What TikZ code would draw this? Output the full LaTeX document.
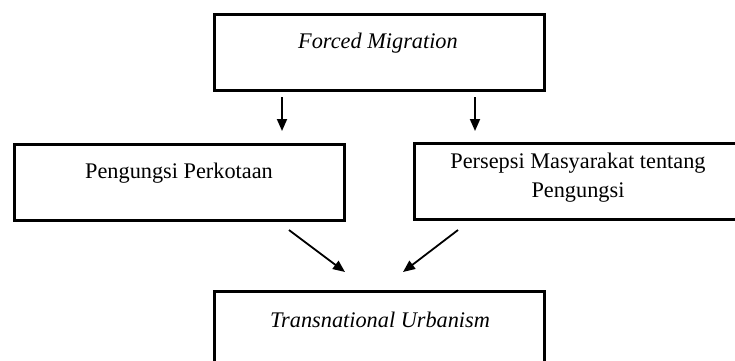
\documentclass[tikz,border=0pt]{standalone}
\usepackage{fontspec}
\setmainfont{Liberation Serif}
\usetikzlibrary{arrows.meta,calc}
\begin{document}
\begin{tikzpicture}[x=1pt,y=-1pt,
  boxnode/.style={draw=black,line width=3pt,minimum width=330pt,minimum height=76pt,inner sep=0pt,anchor=north west},
  txt/.style={font=\fontsize{22.3}{29}\selectfont,align=center,inner sep=0pt},
  arr/.style={line width=1.8pt,-{Triangle[length=12pt,width=10pt]}}]
\useasboundingbox (0,0) rectangle (735,360);
\clip (0,0) rectangle (735,360);
\fill[white] (0,0) rectangle (735,360);
% boxes
\node[boxnode] (top) at (213,13) {};
\node[boxnode] (left) at (13,143) {};
\node[boxnode] (right) at (413,142) {};
\node[boxnode,minimum height=80pt] (bottom) at (213,290) {};
% texts
\node[txt] (ttop) at (378,43) {\itshape Forced Migration};
\node[txt] (tleft) at (179,173) {Pengungsi Perkotaan};
\node[txt] (tright) at (578,177.5) {Persepsi Masyarakat tentang\\Pengungsi};
\node[txt] (tbottom) at (380,320) {\itshape Transnational Urbanism};
% connectors
\coordinate (a1) at (282,97);
\coordinate (b1) at (282,131);
\coordinate (a2) at (475,97);
\coordinate (b2) at (475,131);
\coordinate (c1) at (289,230);
\coordinate (d1) at (345,272);
\coordinate (c2) at (458,230);
\coordinate (d2) at (403,272);
\draw[arr] (a1) -- (b1);
\draw[arr] (a2) -- (b2);
\draw[arr] (c1) -- (d1);
\draw[arr] (c2) -- (d2);
\end{tikzpicture}
\end{document}
